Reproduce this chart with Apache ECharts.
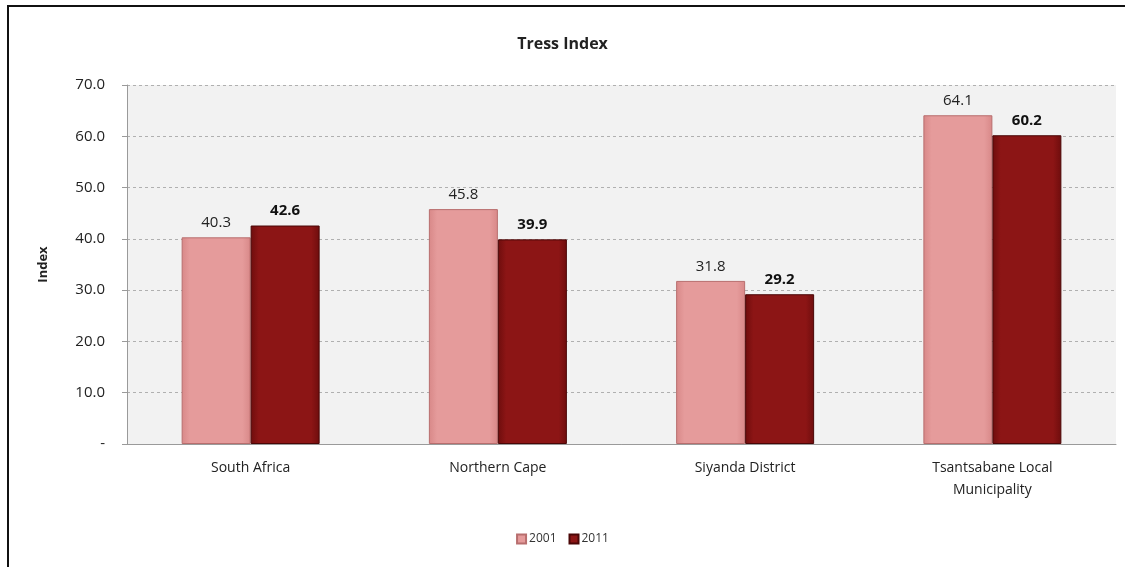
<!DOCTYPE html>
<html>
<head>
<meta charset="utf-8">
<script src="https://cdn.jsdelivr.net/npm/echarts@6/dist/echarts.min.js"></script>
<style>
  html, body { margin: 0; padding: 0; background: #fff; }
  #frame {
    position: absolute; left: 7px; top: 5px; width: 1118px; height: 562px;
    border-left: 2px solid #111; border-top: 2px solid #111; box-sizing: border-box;
  }
  #chart { position: absolute; left: 0; top: 0; width: 1125px; height: 567px; }
</style>
</head>
<body>
<div id="frame"></div>
<div id="chart"></div>
<script>
// 类别与数据
const categories = ['South Africa', 'Northern Cape', 'Siyanda District', 'Tsantsabane Local\nMunicipality']
const years = ['2001', '2011']
const values2001 = [40.3, 45.8, 31.8, 64.1]
const values2011 = [42.6, 39.9, 29.2, 60.2]
const yTicks = [0, 10, 20, 30, 40, 50, 60, 70]

const font = 'Open Sans, Liberation Sans, sans-serif'

const myChart = echarts.init(document.getElementById('chart'))

const makeGradient = (edge, mid) =>
  new echarts.graphic.LinearGradient(0, 0, 1, 0, [
    { offset: 0, color: edge },
    { offset: 0.12, color: mid },
    { offset: 0.88, color: mid },
    { offset: 1, color: edge },
  ])

const option = {
  animation: false,
  title: {
    text: 'Tress Index',
    left: 'center',
    top: 31,
    textStyle: { fontFamily: font, fontSize: 16, fontWeight: 'bold', color: '#222' },
  },
  legend: {
    data: years,
    bottom: 17,
    left: 'center',
    itemWidth: 9,
    itemHeight: 9,
    itemGap: 12,
    icon: 'rect',
    textStyle: { fontFamily: font, fontSize: 12, color: '#333', padding: [0, 0, 0, -2] },
  },
  grid: {
    left: 127,
    right: 9,
    top: 85,
    bottom: 123,
    show: true,
    backgroundColor: '#f2f2f2',
    borderWidth: 0,
  },
  xAxis: {
    type: 'category',
    data: categories,
    axisLine: { lineStyle: { color: '#9a9a9a', width: 1 } },
    axisTick: { show: false },
    axisLabel: { fontFamily: font, fontSize: 14, color: '#222', margin: 13, lineHeight: 22 },
  },
  yAxis: {
    type: 'value',
    min: yTicks[0],
    max: yTicks[yTicks.length - 1],
    interval: 10,
    name: 'Index',
    nameLocation: 'middle',
    nameGap: 77,
    nameTextStyle: { fontFamily: font, fontSize: 13, fontWeight: 'bold', color: '#222' },
    axisLine: { show: true, lineStyle: { color: '#9a9a9a', width: 1 } },
    axisTick: { show: true, length: 5, lineStyle: { color: '#9a9a9a' } },
    splitLine: { lineStyle: { color: '#b0b0b0', type: [3, 3], width: 1 } },
    axisLabel: {
      fontFamily: font,
      fontSize: 15,
      color: '#222',
      margin: 22,
      formatter: (v) => (v === 0 ? '-' : v.toFixed(1)),
    },
  },
  series: [
    {
      name: years[0],
      type: 'bar',
      data: values2001,
      barWidth: 69,
      barGap: '0%',
      itemStyle: {
        color: makeGradient('#d88888', '#e59b9b'),
        borderColor: '#b86e6e',
        borderWidth: 1,
      },
      label: {
        show: true,
        position: 'top',
        distance: 7,
        fontFamily: font,
        fontSize: 15,
        color: '#222',
        formatter: (p) => p.value.toFixed(1),
      },
    },
    {
      name: years[1],
      type: 'bar',
      data: values2011,
      barWidth: 69,
      itemStyle: {
        color: makeGradient('#6e0d0d', '#8c1515'),
        borderColor: '#4a0606',
        borderWidth: 1,
      },
      label: {
        show: true,
        position: 'top',
        distance: 7,
        fontFamily: font,
        fontSize: 15,
        fontWeight: 'bold',
        color: '#111',
        formatter: (p) => p.value.toFixed(1),
      },
    },
  ],
}

myChart.setOption(option)
</script>
</body>
</html>
